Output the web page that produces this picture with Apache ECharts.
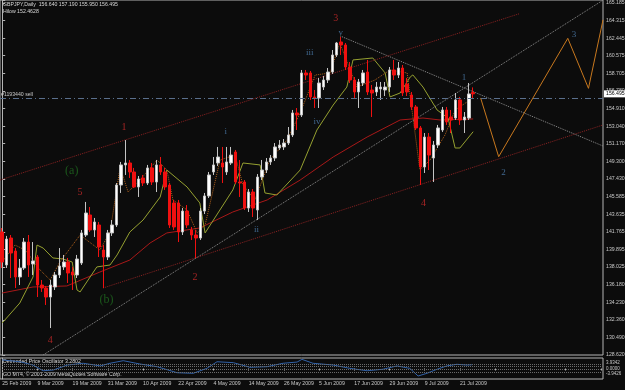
<!DOCTYPE html>
<html><head><meta charset="utf-8">
<script src="https://cdn.jsdelivr.net/npm/echarts/dist/echarts.min.js"></script>
<style>html,body{margin:0;padding:0;background:#0c0c0c}#c{width:625px;height:390px}</style>
</head><body><div id="c"></div>
<script>
// ---- data ----
const dateLabels = ["25 Feb 2009","9 Mar 2009","19 Mar 2009","31 Mar 2009","10 Apr 2009","22 Apr 2009","4 May 2009","14 May 2009","26 May 2009","5 Jun 2009","17 Jun 2009","29 Jun 2009","9 Jul 2009","21 Jul 2009"];
const priceLabels = ["128.620","130.490","132.360","134.230","136.180","138.025","139.895","141.765","143.635","145.585","147.430","149.300","151.170","153.040","154.910","156.780","158.705","160.575","162.445","164.315","165.185"];
// [open, close, low, high]
const candles = [
[141.75,138.55,137.91,142.18],[138.23,141.00,137.91,141.33],[141.11,139.51,136.84,141.43],[139.72,136.95,135.77,140.04],
[136.95,137.91,136.09,138.87],[137.91,140.68,137.70,141.11],[140.68,138.23,136.95,141.43],[138.34,138.66,137.16,140.68],
[139.08,136.09,134.81,139.30],[136.09,135.77,135.35,136.63],[135.77,134.81,133.96,135.99],[134.81,136.09,131.50,136.63],
[135.88,137.16,135.56,137.48],[137.16,138.12,136.84,140.04],[138.02,138.55,137.70,139.30],[138.55,137.37,136.31,138.98],
[137.48,137.16,135.56,138.02],[137.16,138.87,136.84,139.30],[138.44,141.65,138.23,141.97],[141.43,143.78,141.22,144.96],
[143.57,141.97,141.75,144.42],[141.97,142.82,141.22,143.25],[142.50,140.15,139.08,142.82],[139.83,139.08,135.77,140.36],
[139.08,141.65,138.76,141.97],[141.65,142.50,141.33,143.03],[142.50,146.77,142.29,146.98],[146.77,148.91,145.92,149.23],
[148.91,149.12,147.84,151.57],[149.12,148.16,147.52,149.44],[148.16,146.56,146.45,148.59],[146.56,147.41,145.49,147.73],
[147.52,146.98,146.66,147.84],[146.98,148.59,146.77,148.91],[148.59,147.09,146.77,149.12],[147.09,148.91,146.02,149.44],
[148.91,148.16,147.84,149.76],[148.16,146.56,146.24,148.59],[146.77,142.50,142.18,146.98],[144.85,142.29,141.97,145.17],
[144.85,141.75,140.68,145.17],[141.75,143.99,141.43,144.31],[143.99,142.50,142.18,144.63],[141.97,141.43,140.90,142.29],
[141.43,141.11,138.98,141.97],[141.11,143.99,140.90,144.31],[143.99,145.60,143.67,145.92],[145.60,147.84,145.38,148.16],
[148.16,148.91,147.84,149.76],[149.12,149.76,148.80,150.83],[149.12,148.69,146.98,150.83],[148.16,149.23,147.84,150.83],
[149.12,149.97,148.91,150.83],[150.29,147.09,146.88,150.51],[147.09,146.98,145.49,149.44],[147.09,144.31,144.10,147.30],
[144.31,146.02,143.89,146.34],[146.02,144.31,143.35,146.34],[144.10,147.62,143.03,147.94],[147.62,148.37,147.30,149.44],
[148.37,149.23,148.05,149.65],[149.23,149.65,148.91,149.97],[149.65,150.83,149.33,151.25],[150.72,151.04,150.51,151.57],
[150.83,151.25,150.51,151.68],[151.25,152.11,151.04,152.96],[152.11,154.46,151.89,154.78],[154.46,154.24,152.64,154.99],
[154.24,158.73,154.03,159.05],[158.73,158.51,157.98,159.05],[158.73,156.17,155.85,158.94],[156.17,156.06,154.99,156.91],
[156.06,157.66,154.99,158.19],[157.23,157.98,156.91,158.41],[157.98,158.83,157.66,159.26],[158.83,160.65,158.62,161.18],
[160.65,161.93,160.44,162.04],[162.04,161.72,160.65,162.57],[161.72,159.37,159.05,161.93],[159.37,157.98,157.66,159.90],
[157.98,156.70,156.06,158.30],[156.70,157.77,154.99,158.09],[157.66,158.73,157.34,159.05],[158.83,156.70,156.38,160.12],
[156.91,156.59,154.03,157.45],[156.70,157.23,156.27,157.77],[157.02,157.23,155.85,157.77],[156.91,157.23,156.27,157.77],
[157.23,159.05,156.70,159.37],[159.05,158.51,157.98,160.12],[158.51,159.26,158.19,159.90],[159.26,156.59,156.27,159.58],
[157.55,156.70,156.27,158.19],[156.38,155.10,154.78,156.70],[155.10,152.86,152.64,155.31],[152.86,148.69,146.77,153.07],
[148.69,151.89,148.05,152.32],[151.89,149.97,148.37,152.32],[149.65,151.04,147.09,151.47],[151.04,152.86,150.72,153.18],
[152.64,154.78,152.43,155.10],[154.78,153.50,153.18,155.10],[154.03,153.71,152.32,154.78],[153.92,155.85,153.71,156.59],
[155.85,153.71,153.18,156.17],[153.71,154.03,152.32,154.56],[153.92,156.49,153.71,157.66],[156.640,156.495,155.950,157.190]
];
const redMA = [[0,135.24],[7,135.88],[14.7,135.99],[22.2,137.48],[29,138.76],[33.6,140.58],[37.4,141.65],[44.9,142.18],[52.4,143.89],[60.2,145.17],[67.7,147.30],[75.2,149.76],[82.9,151.89],[90.4,153.71],[95.6,153.92],[99.5,153.71],[107,153.82]];
const hilow = [[0,132.04],[4,134.17],[7,136.95],[7.9,140.36],[9.3,140.04],[11.5,138.98],[13.8,138.87],[15.9,138.55],[17,135.56],[17.7,135.35],[21.5,138.02],[24.5,138.23],[26.1,139.30],[29,141.75],[32,143.03],[35.9,145.49],[37.4,148.37],[42,146.56],[44.9,144.85],[46.1,141.65],[52.4,146.24],[54.7,149.12],[58.6,148.91],[59.7,145.92],[62.4,145.70],[67.7,148.37],[71.5,152.64],[75.2,155.31],[78.3,157.23],[79.7,160.12],[84.2,160.33],[87,158.73],[88.1,156.17],[90.4,156.59],[92.7,158.30],[93.3,158.52],[95.6,157.23],[98.8,154.78],[101.3,153.92],[102.9,150.72],[104,150.72],[107,152.46]];
const zigzag = [[0,138.55],[2.9,140.36],[5.2,139.83],[8.6,137.70],[10.9,136.63],[13.1,138.55],[17.7,141.43],[22.2,139.83],[24.5,141.75],[26.8,148.69],[28.6,146.02],[31.3,147.30],[35.2,149.44],[37.4,148.37],[38.8,145.17],[42,144.10],[44.3,141.65],[46.1,142.50],[49.5,149.44],[52.9,149.97],[54.7,146.77],[57.4,145.17],[60.8,149.44],[64.7,151.57],[67.7,154.46],[71.1,158.51],[74.5,158.73],[76.7,161.93],[80.6,157.23],[84.7,157.98],[88.1,159.05],[92,158.73],[94.9,148.37],[97.2,149.44],[100.6,152.11],[102.9,154.78],[106.3,155.85]];
const projection = [[108.7,156.06],[112.8,149.79],[128.5,162.43],[133.2,157.09],[136.5,164.4]];
const greyLines = [[[9.3,128.62],[136.5,166.5]],[[76.8,162.68],[136.5,150.93]]];
const redLines = [[[-0.5,147.30],[117.6,165.07]],[[22.9,135.77],[136.5,153.18]]];
const waveRed = [[75.8,164.60,"3"],[27.7,152.96,"1"],[17.7,146.02,"5"],[10.9,130.22,"4"],[43.8,136.95,"2"],[95.7,144.85,"4"]];
const waveBlue = [[76.9,163.00,"v"],[69.9,160.86,"iii"],[71.5,153.53,"iv"],[50.8,152.43,"i"],[57.8,141.97,"ii"],[104.9,158.19,"1"],[113.9,148.05,"2"],[129.9,162.78,"3"]];
const waveGreen = [[15.8,148.26,"(a)"],[23.7,134.49,"(b)"]];
const dpo = [[0,5.7],[4.1,4.5],[7,2.3],[9.3,-1.5],[11.6,-1.0],[14.8,2.3],[18.4,3.5],[22.3,1.7],[24.5,3.5],[27.5,5.2],[31.3,3.0],[35.2,1.2],[39.7,-2.8],[43.4,-3.2],[46.5,0.1],[48.8,4.5],[52.5,3.9],[56.3,0.8],[60.2,1.2],[63.8,3.5],[67,4.3],[68.1,6.1],[70.6,3.5],[75.2,2.3],[79,0.1],[82.9,-1.5],[86.5,-0.5],[89.7,1.7],[92.6,0.1],[94.5,-5.0],[96.5,-3.2],[98.8,-0.5],[101,1.7],[103.3,2.8],[105.6,2.3],[106.7,2.5]];
const dpoLevels = [3.0,1.2,-0.5,-2.3];
const dpoLabels = {"3.5":"3.9342","0":"0.0000","-3.5":"-3.9426"};
const bidPrice = 156.495, orderPrice = 156.06;

// ---- chart ----
const N = 137;
const cats = Array.from({length:N},(_,i)=>String(i));
const FS = 5.2, TXT = '#c8c8c8', FRAME = '#b4b4b4';
const fontFam = 'Liberation Sans';
const chart = echarts.init(document.getElementById('c'), null, {renderer:'canvas'});

function lineSeries(data, color, type, xi, yi, width) {
  return {type:'line', xAxisIndex:xi, yAxisIndex:yi, data, symbol:'none', showSymbol:false, silent:true,
    lineStyle:{color, type, width:width||1}, z:3, animation:false};
}
function labelSeries(arr, color, size, family) {
  return {type:'scatter', xAxisIndex:1, yAxisIndex:0, symbolSize:1, silent:true, itemStyle:{color:'rgba(0,0,0,0)'},
    data: arr.map(a=>({value:[a[0],a[1]], name:a[2]})),
    label:{show:true, position:'inside', formatter:'{b}', color, fontSize:size, fontFamily:family}, z:5, animation:false};
}

const series = [
  {type:'candlestick', xAxisIndex:0, yAxisIndex:0, data:candles, barWidth:3, z:4, animation:false,
   itemStyle:{color:'#ffffff', color0:'#f01010', borderColor:'#c4c4c4', borderColor0:'#f01010', borderWidth:1},
   markLine:{symbol:'none', silent:true, animation:false, data:[
     {yAxis:orderPrice, lineStyle:{color:'#5a6f8c', type:[6,3,1,3], width:1},
      label:{show:true, position:'insideStartTop', formatter:'#1193440 sell', color:TXT, fontSize:FS, fontFamily:fontFam, distance:1}},
     {yAxis:bidPrice, lineStyle:{color:'rgba(0,0,0,0)', width:1},
      label:{show:true, position:'end', formatter:'156.495', color:'#000', backgroundColor:'#ffffff', fontSize:FS, fontFamily:fontFam, padding:[1,2], distance:1}}
   ]}},
  lineSeries(redMA, '#a81818', 'solid', 1, 0),
  lineSeries(hilow, '#95a030', 'solid', 1, 0),
  lineSeries(zigzag, '#b0601a', 'dotted', 1, 0),
  lineSeries(projection, '#c8781e', 'solid', 1, 0),
  ...greyLines.map(d=>lineSeries(d, '#8c8c8c', 'dotted', 1, 0)),
  ...redLines.map(d=>lineSeries(d, '#8b2222', 'dotted', 1, 0)),
  labelSeries(waveRed, '#cc2a2a', 10, 'Liberation Serif'),
  labelSeries(waveBlue, '#4f7fb0', 9, 'Liberation Serif'),
  labelSeries(waveGreen, '#1f6a1f', 12, 'Liberation Serif'),
  Object.assign(lineSeries(dpo, '#3262a8', 'solid', 3, 1), {
    markLine:{symbol:'none', silent:true, animation:false, label:{show:false},
      lineStyle:{color:'#6a6a6a', type:'dotted', width:1}, data: dpoLevels.map(v=>({yAxis:v}))}})
];

const option = {
  backgroundColor:'#0c0c0c',
  animation:false,
  grid:[
    {left:0, right:22, top:0, height:355, show:true, borderColor:FRAME, borderWidth:1, containLabel:false, outerBoundsMode:'none'},
    {left:0, right:22, top:358, height:21, show:true, borderColor:FRAME, borderWidth:1, containLabel:false, outerBoundsMode:'none'}
  ],
  xAxis:[
    {type:'category', gridIndex:0, data:cats, axisLine:{show:false}, axisTick:{show:false}, axisLabel:{show:false}, splitLine:{show:false}},
    {type:'value', gridIndex:0, min:-0.5, max:N-0.5, show:false, splitLine:{show:false}},
    {type:'category', gridIndex:1, data:cats, axisLine:{show:false},
     axisTick:{show:true, interval:7, alignWithLabel:true, length:2, lineStyle:{color:FRAME}},
     axisLabel:{show:true, interval:7, align:'left', margin:2, color:TXT, fontSize:FS, fontFamily:fontFam,
       formatter:(v,idx)=> (idx%8===0 && dateLabels[idx/8]) ? dateLabels[idx/8] : ''},
     splitLine:{show:false}},
    {type:'value', gridIndex:1, min:-0.5, max:N-0.5, show:false, splitLine:{show:false}}
  ],
  yAxis:[
    {type:'value', gridIndex:0, position:'right', min:128.62, max:166.52, interval:1.8795, scale:true,
     axisLine:{show:true, lineStyle:{color:FRAME}}, axisTick:{show:true, length:3, lineStyle:{color:FRAME}},
     splitLine:{show:false},
     axisLabel:{margin:3, color:TXT, fontSize:FS, fontFamily:fontFam, showMaxLabel:true, showMinLabel:true,
       formatter:v=>{const k=Math.round((v-128.62)/1.8795); if(Math.abs(v-(128.62+k*1.8795))>0.01) return ''; return priceLabels[k]||'';}}},
    {type:'value', gridIndex:1, position:'right', min:-7, max:7, interval:3.5,
     axisLine:{show:true, lineStyle:{color:FRAME}}, axisTick:{show:false}, splitLine:{show:false},
     axisLabel:{margin:3, color:TXT, fontSize:4.5, fontFamily:fontFam,
       formatter:v=> dpoLabels[String(v)] || ''}}
  ],
  graphic:[
    {type:'text', left:3, top:2, silent:true, style:{text:'GBPJPY,Daily  156.640 157.190 155.950 156.495', fill:'#d8d8d8', font:FS+'px "Liberation Sans"'}},
    {type:'text', left:3, top:9.5, silent:true, style:{text:'Hilow 152.4628', fill:'#d8d8d8', font:FS+'px "Liberation Sans"'}},
    {type:'text', left:3, top:359.5, silent:true, style:{text:'Detrended Price Oscillator 3.2802', fill:'#d8d8d8', font:FS+'px "Liberation Sans"'}},
    {type:'text', left:3, top:372.5, silent:true, style:{text:'GO MT4, © 2001-2009 MetaQuotes Software Corp.', fill:'#d8d8d8', font:FS+'px "Liberation Sans"'}}
  ],
  series
};
chart.setOption(option);
</script>
</body></html>
